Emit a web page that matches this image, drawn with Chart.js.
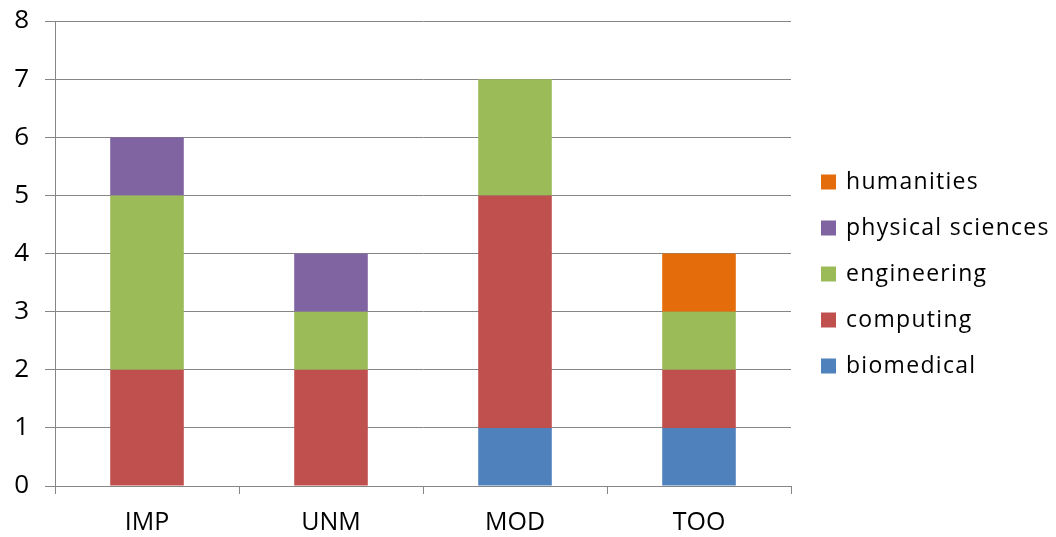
<!DOCTYPE html>
<html>
<head>
<meta charset="utf-8">
<script src="https://cdn.jsdelivr.net/npm/chart.js@4"></script>
<style>
  html, body { margin: 0; padding: 0; background: #ffffff; }
  #wrap { width: 1056px; height: 537px; position: relative; }
</style>
</head>
<body>
<div id="wrap"><canvas id="c" width="1056" height="537"></canvas></div>
<script>
// Institutions on the x axis
const categories = ['IMP', 'UNM', 'MOD', 'TOO'];

// Counts per subject area, stacked bottom to top
const biomedical       = [0, 0, 1, 1];
const computing        = [2, 2, 4, 1];
const engineering      = [3, 1, 2, 1];
const physicalSciences = [1, 1, 0, 0];
const humanities       = [0, 0, 0, 1];

const seriesNames  = ['biomedical', 'computing', 'engineering', 'physical sciences', 'humanities'];
const seriesColors = ['#4F81BD', '#C0504D', '#9BBB59', '#8064A2', '#E46C0A'];
const seriesData   = [biomedical, computing, engineering, physicalSciences, humanities];

const yTicks = [0, 1, 2, 3, 4, 5, 6, 7, 8];

const FONT = "'Open Sans', 'DejaVu Sans', sans-serif";
const GRID = '#868686';

// Legend drawn at the right, top entry is the last series
const sideLegend = {
  id: 'sideLegend',
  afterDraw(chart) {
    const ctx = chart.ctx;
    const ds = chart.data.datasets;
    ctx.save();
    ctx.font = '23px ' + FONT;
    if ('letterSpacing' in ctx) ctx.letterSpacing = '1.3px';
    ctx.textBaseline = 'middle';
    ctx.textAlign = 'left';
    const x0 = 821, top = 182, step = 46, box = 15;
    for (let i = 0; i < ds.length; i++) {
      const d = ds[ds.length - 1 - i];
      const cy = top + i * step;
      ctx.fillStyle = d.backgroundColor;
      ctx.fillRect(x0, cy - box / 2, box, box);
      ctx.fillStyle = '#000000';
      ctx.fillText(d.label, 846, cy);
    }
    ctx.restore();
  }
};

new Chart(document.getElementById('c'), {
  type: 'bar',
  data: {
    labels: categories,
    datasets: seriesNames.map((name, i) => ({
      label: name,
      data: seriesData[i],
      backgroundColor: seriesColors[i],
      borderWidth: 0,
      barPercentage: 0.4,
      categoryPercentage: 1.0
    }))
  },
  options: {
    responsive: false,
    animation: false,
    layout: { padding: { top: 21, right: 265, left: 0, bottom: 0 } },
    plugins: {
      legend: { display: false },
      tooltip: { enabled: false }
    },
    scales: {
      x: {
        stacked: true,
        grid: {
          offset: true,
          drawOnChartArea: false,
          drawTicks: true,
          tickLength: 8,
          color: GRID
        },
        border: { color: GRID, width: 1 },
        ticks: {
          color: '#000000',
          font: { family: FONT, size: 25 },
          padding: 14
        },
        afterFit(scale) {
          scale.height = 51;
          scale.paddingLeft = 0;
          scale.paddingRight = 0;
        }
      },
      y: {
        stacked: true,
        min: 0,
        max: 8,
        afterBuildTicks(scale) { scale.ticks = yTicks.map(v => ({ value: v })); },
        grid: {
          color: GRID,
          drawTicks: true,
          tickLength: 10
        },
        border: { color: GRID, width: 1 },
        ticks: {
          color: '#000000',
          font: { family: FONT, size: 26 },
          padding: 16
        },
        afterFit(scale) {
          scale.width = 55;
          scale.paddingTop = 0;
          scale.paddingBottom = 0;
        }
      }
    }
  },
  plugins: [sideLegend]
});
</script>
</body>
</html>
